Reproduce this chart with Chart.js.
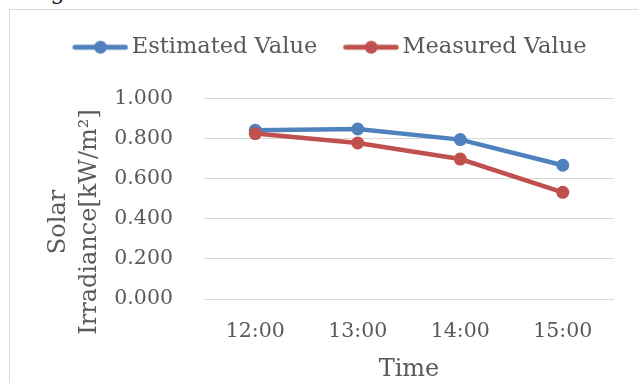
<!DOCTYPE html>
<html>
<head>
<meta charset="utf-8">
<style>
  html, body { margin: 0; padding: 0; background: #fff; overflow: hidden; }
  body { width: 638px; height: 383px; position: relative; }
  .caption {
    position: absolute; left: 27px; top: -22px;
    font: 23px "DejaVu Serif", serif; color: #222;
  }
  #frame {
    position: absolute; left: 9px; top: 9px;
    width: 680px; height: 400px;
    border: 1px solid #d9d9d9;
  }
  #chart { display: block; }
</style>
</head>
<body>
<div class="caption">Fig</div>
<div id="frame">
  <canvas id="chart" width="670" height="380"></canvas>
</div>

<script src="https://cdn.jsdelivr.net/npm/chart.js"></script>

<script>
    const timeLabels = ['12:00', '13:00', '14:00', '15:00']
    const estimatedValues = [0.842, 0.848, 0.795, 0.667]
    const measuredValues = [0.825, 0.778, 0.698, 0.532]
    const yTitleLines = ['Solar', 'Irradiance[kW/m²]']
    const xTitle = 'Time'

    const BLUE = '#4f81bd'
    const RED = '#c0504d'
    const TEXT = '#595959'
    const FONT = '"DejaVu Serif", serif'

    // legend swatch: thick line with a dot in the middle
    function swatch(color) {
        const c = document.createElement('canvas')
        c.width = 64
        c.height = 16
        const g = c.getContext('2d')
        g.strokeStyle = color
        g.lineWidth = 5
        g.lineCap = 'round'
        g.beginPath()
        g.moveTo(10.5, 8)
        g.lineTo(61, 8)
        g.stroke()
        g.fillStyle = color
        g.beginPath()
        g.arc(36, 8, 6.5, 0, Math.PI * 2)
        g.fill()
        return c
    }
    const swatches = [swatch(BLUE), swatch(RED)]

    // extra room between the legend and the plot
    const legendGap = {
        id: 'legendGap',
        afterInit(chart) {
            const fit = chart.legend.fit
            chart.legend.fit = function () {
                fit.call(this)
                this.height += 30
            }
        }
    }

    // two-line rotated y axis title
    const yTitle = {
        id: 'yTitle',
        afterDraw(chart) {
            const ctx = chart.ctx
            const xs = [49, 80]
            ctx.save()
            ctx.fillStyle = TEXT
            ctx.font = '24px ' + FONT
            ctx.textAlign = 'center'
            ctx.textBaseline = 'middle'
            yTitleLines.forEach((line, i) => {
                ctx.save()
                ctx.translate(xs[i], 212)
                ctx.rotate(-Math.PI / 2)
                ctx.fillText(line, 0, 0)
                ctx.restore()
            })
            ctx.restore()
        }
    }

    const ctx = document.getElementById('chart')
    new Chart(ctx, {
        type: 'line',
        data: {
            labels: timeLabels,
            datasets: [{
                label: 'Estimated Value',
                data: estimatedValues,
                borderColor: BLUE,
                backgroundColor: BLUE,
                order: 1
            }, {
                label: 'Measured Value',
                data: measuredValues,
                borderColor: RED,
                backgroundColor: RED,
                order: 0
            }]
        },
        options: {
            responsive: false,
            animation: false,
            layout: { padding: { left: 35, top: 0, right: 66, bottom: 0 } },
            elements: {
                line: { borderWidth: 4.5, tension: 0 },
                point: { radius: 6.5, borderWidth: 0, hoverRadius: 6.5 }
            },
            plugins: {
                tooltip: { enabled: false },
                legend: {
                    position: 'top',
                    labels: {
                        color: TEXT,
                        font: { family: FONT, size: 22.5 },
                        usePointStyle: true,
                        pointStyleWidth: 48,
                        padding: 26,
                        sort: (a, b) => a.datasetIndex - b.datasetIndex,
                        generateLabels(chart) {
                            const items = Chart.defaults.plugins.legend.labels.generateLabels(chart)
                            items.forEach(item => { item.pointStyle = swatches[item.datasetIndex] })
                            return items
                        }
                    }
                }
            },
            scales: {
                x: {
                    offset: true,
                    grid: { display: false, drawTicks: false },
                    border: { display: false },
                    ticks: { color: TEXT, font: { family: FONT, size: 20.5 }, padding: 20 },
                    title: {
                        display: true,
                        text: xTitle,
                        color: TEXT,
                        font: { family: FONT, size: 24 },
                        padding: { top: 0, bottom: 6 }
                    },
                    afterFit(scale) { scale.height = 91 }
                },
                y: {
                    min: 0,
                    max: 1,
                    grid: { color: '#d9d9d9', lineWidth: 1, drawTicks: false },
                    border: { display: false },
                    ticks: {
                        stepSize: 0.2,
                        color: TEXT,
                        font: { family: FONT, size: 20.5 },
                        padding: 31,
                        callback: v => v.toFixed(3)
                    },
                    afterFit(scale) { scale.width = 159 }
                }
            }
        },
        plugins: [legendGap, yTitle]
    })
</script>
</body>
</html>
